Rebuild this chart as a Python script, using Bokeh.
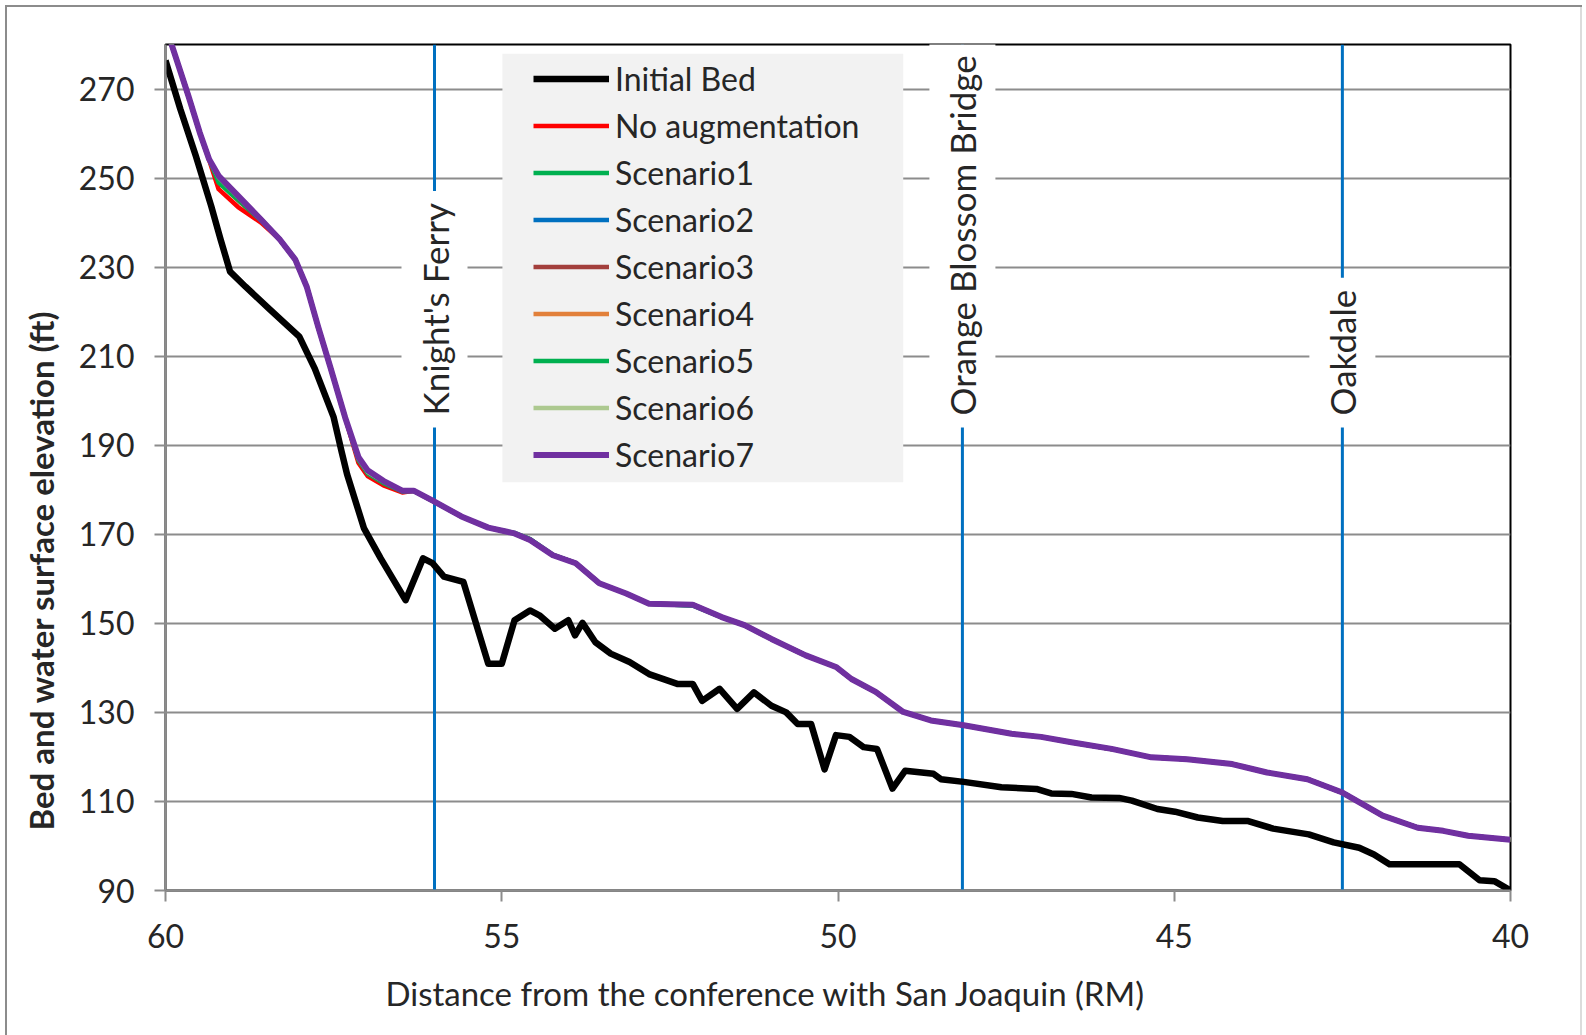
from math import pi
from bokeh.plotting import figure
from bokeh.models import (Range1d, FixedTicker, Legend, LegendItem, Label, Title,
                          BoxAnnotation)
from bokeh.embed import file_html
from bokeh.resources import INLINE

# ---------------- data ----------------
x_ticks = [60, 55, 50, 45, 40]
y_ticks = [90, 110, 130, 150, 170, 190, 210, 230, 250, 270]

landmark_names = ["Knight's Ferry", "Orange Blossom Bridge", "Oakdale"]
landmark_x = [56.0, 48.15, 42.5]

bed_x = [60.0, 59.78, 59.55, 59.32, 59.18, 59.04, 58.81, 58.47, 58.01, 57.78, 57.5,
         57.38, 57.3, 57.05, 56.8, 56.43, 56.17, 56.03, 55.86, 55.57, 55.2, 55.0,
         54.81, 54.58, 54.44, 54.21, 54.01, 53.91, 53.8, 53.61, 53.38, 53.1, 52.81,
         52.39, 52.16, 52.02, 51.76, 51.5, 51.25, 50.99, 50.77, 50.6, 50.4, 50.2,
         50.03, 49.83, 49.62, 49.42, 49.19, 49.0, 48.58, 48.47, 48.13, 47.57, 47.05,
         46.83, 46.53, 46.23, 45.82, 45.63, 45.25, 44.99, 44.65, 44.28, 43.9, 43.53,
         43.0, 42.63, 42.25, 42.03, 41.8, 40.76, 40.46, 40.24, 40.0]
bed_y = [276.4, 265.5, 255.0, 243.7, 236.2, 229.0, 225.6, 220.8, 214.4, 207.2, 196.3,
         188.5, 183.5, 171.4, 164.6, 155.2, 164.6, 163.5, 160.5, 159.3, 140.9, 140.9,
         150.7, 152.9, 151.8, 148.8, 150.7, 147.3, 150.1, 145.8, 143.2, 141.3, 138.6,
         136.4, 136.4, 132.6, 135.3, 130.8, 134.5, 131.5, 130.0, 127.4, 127.4, 117.2,
         124.9, 124.5, 122.2, 121.8, 112.9, 116.9, 116.2, 115.0, 114.4, 113.2, 112.8,
         111.8, 111.7, 110.9, 110.8, 110.2, 108.3, 107.7, 106.4, 105.6, 105.6, 103.9,
         102.6, 100.8, 99.6, 98.1, 95.9, 95.9, 92.3, 92.1, 90.0]

ws_x = [60.0, 59.92, 59.66, 59.49, 59.35, 59.21, 58.92, 58.58, 58.3, 58.07, 57.9,
        57.73, 57.55, 57.33, 57.13, 56.99, 56.76, 56.48, 56.31, 56.02, 55.6, 55.2,
        54.81, 54.58, 54.24, 53.9, 53.55, 53.15, 52.81, 52.16, 51.73, 51.39, 50.99,
        50.48, 50.03, 49.8, 49.44, 49.03, 48.62, 48.13, 47.42, 46.98, 46.53, 45.93,
        45.34, 44.81, 44.14, 43.62, 43.02, 42.5, 41.9, 41.38, 41.0, 40.63, 40.0]

no_aug = [284.0, 280.5, 268.5, 260.2, 254.0, 247.5, 243.5, 240.0, 236.2, 231.7, 225.6,
          216.6, 207.6, 196.3, 186.0, 183.0, 181.0, 179.4, 179.8, 177.5, 174.0, 171.5,
          170.2, 168.7, 165.3, 163.5, 159.0, 156.7, 154.4, 154.2, 151.4, 149.6, 146.5,
          142.8, 140.2, 137.5, 134.6, 130.1, 128.2, 127.1, 125.2, 124.5, 123.3, 121.8,
          119.9, 119.5, 118.4, 116.5, 115.0, 112.0, 106.8, 104.1, 103.4, 102.3, 101.4]
scenario1 = [284.0, 280.5, 268.5, 260.2, 254.2, 249.0, 245.0, 240.5, 236.2, 231.7, 225.6,
             216.6, 207.6, 196.3, 186.6, 183.6, 181.5, 179.6, 179.8, 177.5, 174.0, 171.5,
             170.2, 168.9, 165.4, 163.5, 159.0, 156.7, 154.4, 154.0, 151.4, 149.6, 146.5,
             142.8, 140.2, 137.5, 134.6, 130.1, 128.2, 127.1, 125.2, 124.5, 123.3, 121.8,
             119.9, 119.5, 118.4, 116.5, 115.0, 112.0, 106.8, 104.1, 103.4, 102.3, 101.4]
scenario2 = [284.0, 280.5, 268.5, 260.2, 254.2, 250.0, 245.5, 240.7, 236.2, 231.7, 225.6,
             216.6, 207.6, 196.3, 187.0, 183.8, 181.8, 179.8, 179.8, 177.5, 174.0, 171.5,
             170.2, 168.7, 165.3, 163.5, 159.0, 156.7, 154.4, 154.2, 151.4, 149.6, 146.5,
             142.8, 140.2, 137.5, 134.6, 130.1, 128.2, 127.1, 125.2, 124.5, 123.3, 121.8,
             119.9, 119.5, 118.4, 116.5, 115.0, 112.0, 106.8, 104.1, 103.4, 102.3, 101.4]
scenario3 = [284.0, 280.5, 268.5, 260.2, 254.2, 249.8, 245.2, 240.7, 236.2, 231.7, 225.6,
             216.6, 207.6, 196.3, 186.8, 183.5, 181.7, 179.8, 179.8, 177.5, 174.0, 171.5,
             170.2, 168.7, 165.3, 163.5, 159.0, 156.7, 154.4, 154.2, 151.4, 149.6, 146.5,
             142.8, 140.2, 137.5, 134.6, 130.1, 128.2, 127.1, 125.2, 124.5, 123.3, 121.8,
             119.9, 119.5, 118.4, 116.5, 115.0, 112.0, 106.8, 104.1, 103.4, 102.3, 101.4]
scenario4 = [284.0, 280.5, 268.5, 260.2, 254.2, 250.0, 245.6, 240.7, 236.2, 231.7, 225.6,
             216.6, 207.6, 196.3, 187.0, 184.0, 181.8, 179.8, 179.8, 177.5, 174.0, 171.5,
             170.2, 168.7, 165.3, 163.5, 159.0, 156.7, 154.4, 154.2, 151.4, 149.6, 146.5,
             142.8, 140.2, 137.5, 134.6, 130.1, 128.2, 127.1, 125.2, 124.5, 123.3, 121.8,
             119.9, 119.5, 118.4, 116.5, 115.0, 112.0, 106.8, 104.1, 103.4, 102.3, 101.4]
scenario5 = [284.0, 280.5, 268.5, 260.2, 254.2, 249.5, 245.3, 240.7, 236.2, 231.7, 225.6,
             216.6, 207.6, 196.3, 186.9, 183.7, 181.7, 179.8, 179.8, 177.5, 174.0, 171.5,
             170.3, 168.9, 165.4, 163.5, 159.0, 156.7, 154.4, 154.0, 151.4, 149.6, 146.5,
             142.8, 140.2, 137.5, 134.6, 130.1, 128.2, 127.1, 125.2, 124.5, 123.3, 121.8,
             119.9, 119.5, 118.4, 116.5, 115.0, 112.0, 106.8, 104.1, 103.4, 102.3, 101.4]
scenario6 = [284.0, 280.5, 268.5, 260.2, 254.2, 250.2, 245.8, 240.7, 236.2, 231.7, 225.6,
             216.6, 207.6, 196.3, 187.1, 184.0, 181.9, 179.8, 179.8, 177.5, 174.0, 171.5,
             170.2, 168.7, 165.3, 163.5, 159.0, 156.7, 154.4, 154.2, 151.4, 149.6, 146.5,
             142.8, 140.2, 137.5, 134.6, 130.1, 128.2, 127.1, 125.2, 124.5, 123.3, 121.8,
             119.9, 119.5, 118.4, 116.5, 115.0, 112.0, 106.8, 104.1, 103.4, 102.3, 101.4]
scenario7 = [284.0, 280.5, 268.5, 260.2, 254.2, 250.5, 246.0, 240.7, 236.2, 231.7, 225.6,
             216.6, 207.6, 196.3, 187.3, 184.3, 182.0, 179.8, 179.8, 177.5, 174.0, 171.5,
             170.2, 168.7, 165.3, 163.5, 159.0, 156.7, 154.4, 154.2, 151.4, 149.6, 146.5,
             142.8, 140.2, 137.5, 134.6, 130.1, 128.2, 127.1, 125.2, 124.5, 123.3, 121.8,
             119.9, 119.5, 118.4, 116.5, 115.0, 112.0, 106.8, 104.1, 103.4, 102.3, 101.4]

series_names = ["No augmentation", "Scenario1", "Scenario2", "Scenario3", "Scenario4",
                "Scenario5", "Scenario6", "Scenario7"]
series_values = [no_aug, scenario1, scenario2, scenario3, scenario4, scenario5,
                 scenario6, scenario7]
series_colors = ["#FF0000", "#00B050", "#0070C0", "#A33F3C", "#E2803A", "#00B050",
                 "#ADC990", "#7030A0"]

# ---------------- styling ----------------
FONT = "Lato"
TXT = "#262626"
GRID = "#8c8c8c"

p = figure(width=1586, height=1035, output_backend="svg", toolbar_location=None,
           x_range=Range1d(60, 40), y_range=Range1d(90, 280),
           min_border_left=165, min_border_right=76, min_border_top=44,
           min_border_bottom=145)
# outer chart-area border (top/left grey, right faint): drawn by the host's inset shadows
p.border_fill_alpha = 0
p.background_fill_color = "white"
p.styles = {"background-color": "white",
            "box-shadow": ("inset 5px 5px 0 0 white, inset -4px 0 0 0 white, "
                           "inset 7px 7px 0 0 #8c8c8c, inset -6px 0 0 0 #dcdcdc")}

p.outline_line_color = "black"
p.outline_line_width = 2
p.outline_line_alpha = 1
p.xgrid.visible = False
p.ygrid.grid_line_color = GRID
p.ygrid.grid_line_width = 2
p.ygrid.ticker = FixedTicker(ticks=y_ticks)

p.xaxis.ticker = FixedTicker(ticks=x_ticks)
p.yaxis.ticker = FixedTicker(ticks=y_ticks)
for ax in (p.xaxis[0], p.yaxis[0]):
    ax.axis_line_color = GRID
    ax.axis_line_width = 2
    ax.major_tick_line_color = GRID
    ax.major_tick_line_width = 2
    ax.major_tick_out = 11
    ax.major_tick_in = 0
    ax.minor_tick_line_color = None
    ax.major_label_text_font = FONT
    ax.major_label_text_font_size = "32px"
    ax.major_label_text_color = TXT
p.yaxis.major_label_standoff = 20
p.xaxis.major_label_standoff = 22

# landmark vertical lines
y0 = [p.y_range.start] * len(landmark_x)
y1 = [p.y_range.end] * len(landmark_x)
p.segment(x0=landmark_x, y0=y0, x1=landmark_x, y1=y1, line_color="#0070C0",
          line_width=3)

# data lines
bed_r = p.line(bed_x, bed_y, line_color="black", line_width=6.5, line_join="round")
renderers = []
for name, vals, col in zip(series_names, series_values, series_colors):
    r = p.line(ws_x, vals, line_color=col, line_width=6 if name == "Scenario7" else 4.5,
               line_join="round")
    renderers.append(r)

# landmark labels
for name, lx in zip(landmark_names, landmark_x):
    p.add_layout(Label(x=lx, y=194.0, text=name, angle=pi / 2, text_align="left",
                       text_baseline="middle", text_font=FONT, text_font_size="35px",
                       text_color=TXT, background_fill_color="white",
                       background_fill_alpha=1, padding=12))

# legend background box
p.add_layout(BoxAnnotation(left=54.99, right=49.03, top=277.9, bottom=181.7,
                           fill_color="#f2f2f2", fill_alpha=1, line_color=None))

items = [LegendItem(label="Initial Bed", renderers=[bed_r])]
for name, r in zip(series_names, renderers):
    items.append(LegendItem(label=name, renderers=[r]))
legend = Legend(items=items, location=(368, 416), padding=0, margin=0, spacing=8,
                glyph_width=76, glyph_height=31, label_height=31, label_standoff=6,
                label_text_font=FONT, label_text_font_size="32px",
                label_text_color=TXT, background_fill_alpha=0, border_line_alpha=0)
p.add_layout(legend)

# axis titles
p.add_layout(Title(text="Bed and water surface elevation (ft)", align="left", offset=60,
                   text_font=FONT, text_font_style="bold", text_font_size="33px",
                   text_color=TXT, vertical_align="top", standoff=26), "left")
p.add_layout(Title(text="Distance from the conference with San Joaquin (RM)", align="left",
                   offset=220, text_font=FONT, text_font_style="normal",
                   text_font_size="33px", text_color=TXT, standoff=40), "below")

open("out.html", "w").write(file_html(p, INLINE))
